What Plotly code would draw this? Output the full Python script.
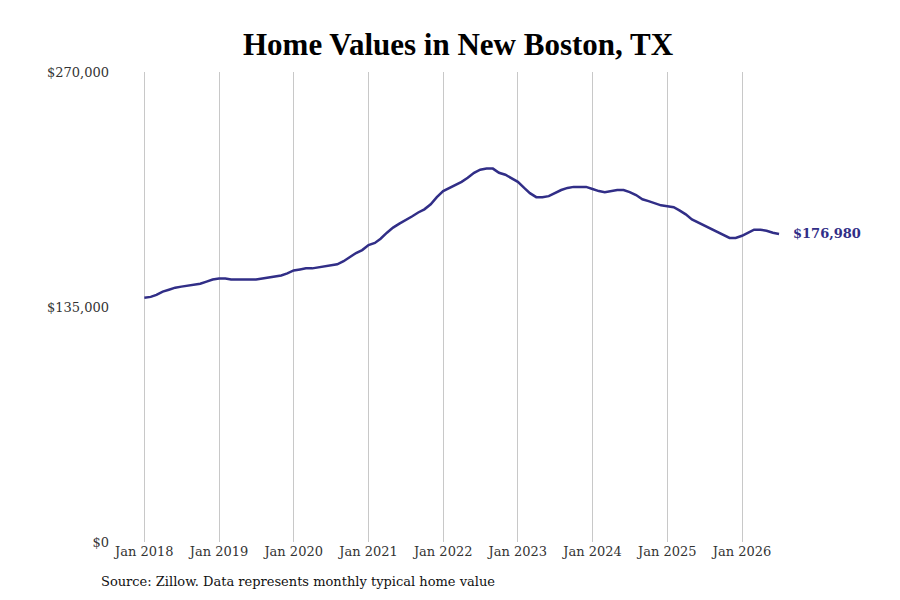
import plotly.graph_objects as go
import pandas as pd

dates = pd.date_range("2018-01-01", "2026-07-01", freq="MS")
values_k = [
    140.3, 140.8, 142.0, 143.8, 144.9, 146.1, 146.7, 147.3, 147.9, 148.4, 149.6, 150.8,
    151.4, 151.4, 150.8, 150.8, 150.8, 150.8, 150.8, 151.4, 151.9, 152.5, 153.1, 154.3,
    156.0, 156.6, 157.2, 157.2, 157.8, 158.4, 159.0, 159.5, 161.3, 163.6, 166.0, 167.7,
    170.6, 171.8, 174.2, 177.7, 180.6, 182.9, 184.7, 187.0, 189.3, 191.1, 194.0, 198.1,
    201.6, 203.4, 205.1, 206.9, 209.2, 212.1, 213.9, 214.5, 214.5, 212.1, 211.0, 209.2,
    206.9, 203.4, 200.4, 198.1, 198.1, 198.7, 200.4, 202.2, 203.4, 204.0, 204.0, 204.0,
    202.8, 201.6, 201.0, 201.6, 202.2, 202.2, 201.0, 199.3, 196.9, 195.8, 194.6, 193.4,
    192.9, 192.3, 190.5, 188.2, 185.3, 183.5, 181.7, 180.0, 178.2, 176.5, 174.7, 174.7,
    175.9, 177.7, 179.4, 179.4, 178.8, 177.7, 176.98,
]
values = [v * 1000 for v in values_k]
tick_dates = pd.date_range("2018-01-01", "2026-01-01", freq="YS")
tick_text = ["Jan " + str(d.year) for d in tick_dates]
line_colour = "#312e87"

fig = go.Figure()
fig.add_trace(go.Scatter(x=dates, y=values, mode="lines",
                         line=dict(color=line_colour, width=2.5), showlegend=False))

fig.add_annotation(x=dates[-1], y=values[-1], text="<b>$176,980</b>", showarrow=False,
                   xanchor="left", xshift=12, font=dict(family="DejaVu Serif", size=13, color=line_colour))
fig.add_annotation(xref="paper", yref="paper", x=-0.0145, y=-0.085, xanchor="left", yanchor="middle",
                   text="Source: Zillow. Data represents monthly typical home value",
                   showarrow=False, font=dict(family="DejaVu Serif", size=13, color="#111"))

fig.update_layout(
    width=900, height=600,
    paper_bgcolor="white", plot_bgcolor="white",
    margin=dict(l=102, r=40, t=64, b=66),
    title=dict(text="<b>Home Values in New Boston, TX</b>", x=0.5, y=0.94, xanchor="center", yanchor="middle",
               font=dict(family="Liberation Serif", size=31, color="black")),
    font=dict(family="DejaVu Serif", size=13, color="#333"),
    xaxis=dict(range=["2017-07-17", "2027-09-09"], tickvals=tick_dates, ticktext=tick_text,
               showgrid=True, gridcolor="#c8c8c8", gridwidth=1, zeroline=False, showline=False, ticks=""),
    yaxis=dict(range=[0, 270000], tickvals=[0, 135000, 270000], tickformat="$,", showgrid=False,
               zeroline=False, showline=False),
)

fig.write_html("out.html")
